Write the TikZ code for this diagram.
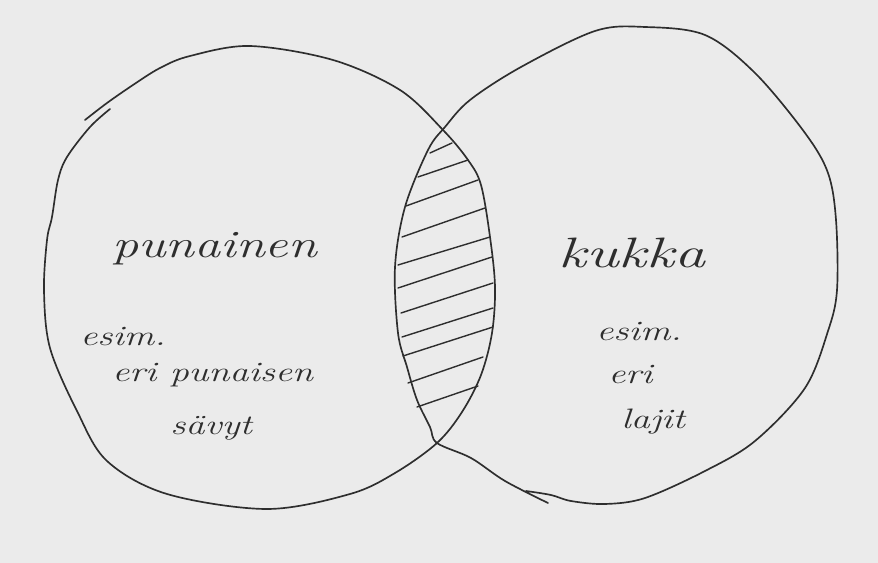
\documentclass[tikz,border=0pt]{standalone}
\usepackage{xcolor}
\usepackage{tikz}
\usetikzlibrary{calc}
\definecolor{VPaper}{HTML}{EBEBEB}
\definecolor{VInk}{HTML}{2E2E2E}
\newcommand{\wide}[1]{\scalebox{1.35}[1]{#1}}

\begin{document}
\begin{tikzpicture}[x=0.02cm, y=-0.02cm,
  pen/.style={draw=VInk, line width=0.95pt, line cap=round, line join=round},
  hatch/.style={draw=VInk, line width=0.8pt, line cap=round},
  biglbl/.style={anchor=base west, inner sep=0pt, text=VInk,
                 font=\fontsize{22}{26}\selectfont\itshape},
  smalllbl/.style={anchor=base west, inner sep=0pt, text=VInk,
                   font=\fontsize{16}{19}\selectfont\itshape}]
\fill[VPaper] (0,0) rectangle (878,563);
\useasboundingbox (0,0) rectangle (878,563);
\draw[pen] plot[smooth, tension=0.55] coordinates {
  (110,109) (90,127) (67,157) (58,180) (52,217) (47,240) (44,291)
  (50,348) (77,411) (107,461) (167,494) (267,509) (350,494) (395,473)
  (437,443) (462,412) (481,375) (492,333) (495,287) (490,237) (481,185)
  (468,160) (443,130) (400,90) (333,60) (250,46) (190,56) (160,68)
  (133,85) (107,103) (85,120)};
\draw[pen] plot[smooth, tension=0.55] coordinates {
  (526,491) (551,495) (571,501) (605,504) (645,498) (705,471) (755,441)
  (805,388) (828,331) (837,290) (836,220) (828,173) (805,133) (755,73)
  (705,35) (645,27) (595,31) (521,67) (470,100) (445,127) (428,150)
  (405,207) (395,267) (398,333) (407,367) (417,400) (430,427) (437,443)
  (471,458) (505,481) (548,503)};
\foreach \xa/\ya/\xb/\yb in {430/153/452/143, 418/177/468/160, 406/206/478/180,
    402/237/485/208, 398/265/490/237, 398/288/492/257, 401/313/493/283,
    402/337/493/308, 403/356/493/327, 408/383/483/357, 417/407/478/386}
  \draw[hatch] (\xa,\ya) -- (\xb,\yb);
\node[biglbl]   (punainen) at (112,258) {\wide{punainen}};
\node[biglbl]   (kukka)    at (558,268) {\scalebox{1.6}[1.1]{kukka}};
\node[smalllbl] (esimA)    at (80,346)  {\wide{esim.}};
\node[smalllbl] (eriA)     at (112,381) {\wide{eri punaisen}};
\node[smalllbl] (savyt)    at (170,434) {\wide{sävyt}};
\node[smalllbl] (esimB)    at (596,341) {\wide{esim.}};
\node[smalllbl] (eriB)     at (608,383) {\wide{eri}};
\node[smalllbl] (lajit)    at (621,428) {\wide{lajit}};
\end{tikzpicture}
\end{document}
